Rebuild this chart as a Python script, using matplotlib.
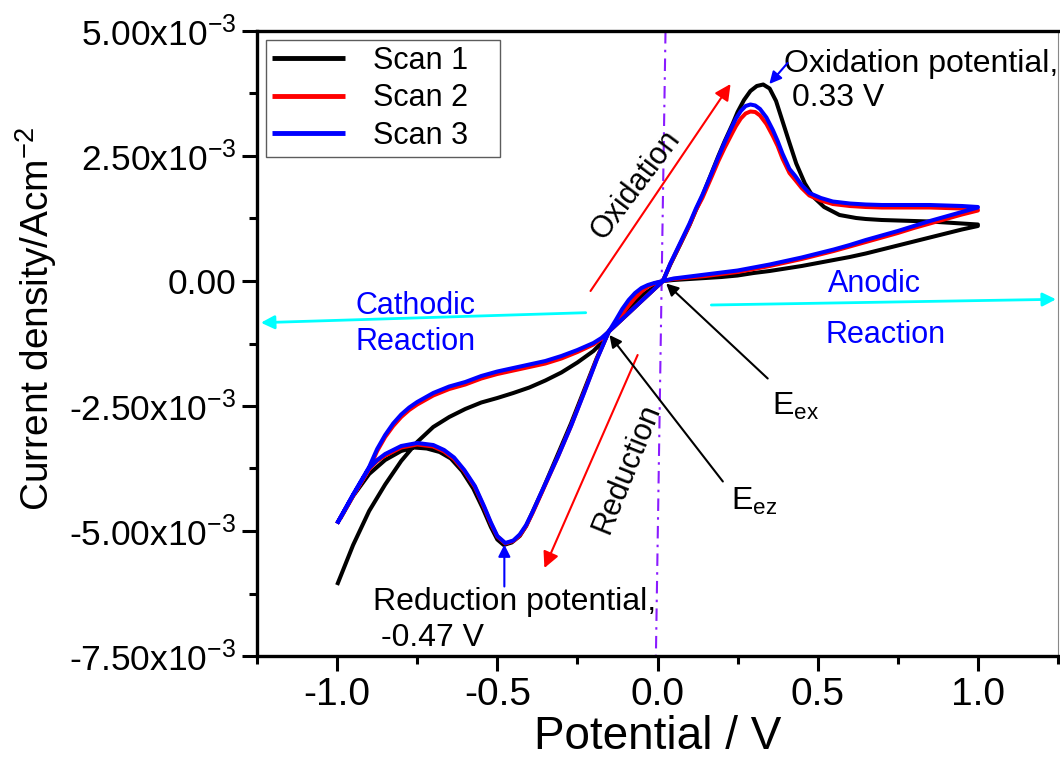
import numpy as np
import matplotlib
matplotlib.use("Agg")
import matplotlib.pyplot as plt
from matplotlib.ticker import FixedLocator, FixedFormatter, MultipleLocator

plt.rcParams['font.family'] = ['Liberation Sans', 'DejaVu Sans']
plt.rcParams['mathtext.fontset'] = 'custom'
plt.rcParams['mathtext.rm'] = 'Liberation Sans'
plt.rcParams['mathtext.it'] = 'Liberation Sans'
plt.rcParams['mathtext.bf'] = 'Liberation Sans:bold'

# current density in units of 1e-3 A/cm2, potential in V
# scan 1 (black): forward sweep -1.0 -> 1.0, then reverse 1.0 -> -1.0
s1_fwd_x = [-1.0, -0.95, -0.90, -0.85, -0.80, -0.75, -0.70, -0.65, -0.60, -0.55, -0.50,
            -0.45, -0.40, -0.35, -0.30, -0.25, -0.20, -0.175, -0.152, -0.12, -0.08, -0.04,
            0.0, 0.017, 0.05, 0.10, 0.15, 0.20, 0.25, 0.30, 0.35, 0.40, 0.45, 0.50, 0.55,
            0.60, 0.65, 0.70, 0.75, 0.80, 0.85, 0.90, 0.95, 1.0]
s1_fwd_y = [-6.08, -5.28, -4.60, -4.07, -3.60, -3.22, -2.92, -2.72, -2.56, -2.43, -2.34,
            -2.24, -2.13, -1.99, -1.83, -1.63, -1.40, -1.24, -1.01, -0.78, -0.50, -0.25,
            -0.08, 0.0, 0.02, 0.04, 0.06, 0.08, 0.11, 0.16, 0.20, 0.25, 0.30, 0.36, 0.42,
            0.48, 0.55, 0.63, 0.71, 0.79, 0.87, 0.95, 1.03, 1.10]
s1_rev_x = [1.0, 0.95, 0.90, 0.85, 0.80, 0.75, 0.70, 0.65, 0.62, 0.568, 0.52, 0.485, 0.46,
            0.433, 0.41, 0.39, 0.37, 0.35, 0.33, 0.31, 0.29, 0.27, 0.25, 0.235, 0.21, 0.19,
            0.17, 0.14, 0.12, 0.10, 0.07, 0.04, 0.017, -0.03, -0.07, -0.11, -0.152, -0.19,
            -0.23, -0.27, -0.31, -0.36, -0.39, -0.41, -0.43, -0.455, -0.48, -0.50, -0.52,
            -0.545, -0.575, -0.61, -0.645, -0.68, -0.72, -0.76, -0.80, -0.85, -0.90, -0.95,
            -0.99]
s1_rev_y = [1.13, 1.15, 1.17, 1.19, 1.20, 1.21, 1.22, 1.24, 1.26, 1.32, 1.48, 1.69, 1.95,
            2.35, 2.80, 3.20, 3.60, 3.85, 3.93, 3.90, 3.80, 3.62, 3.38, 3.15, 2.80, 2.50,
            2.18, 1.70, 1.42, 1.12, 0.72, 0.33, 0.0, -0.28, -0.52, -0.76, -1.01, -1.55,
            -2.20, -2.85, -3.45, -4.20, -4.62, -4.90, -5.10, -5.23, -5.28, -5.17, -4.92,
            -4.55, -4.15, -3.80, -3.55, -3.42, -3.35, -3.33, -3.40, -3.58, -3.86, -4.30,
            -4.75]

# scan 2 (red)
s2_fwd_x = [-1.0, -0.95, -0.90, -0.875, -0.85, -0.825, -0.80, -0.775, -0.75, -0.70, -0.65,
            -0.60, -0.55, -0.50, -0.45, -0.40, -0.35, -0.30, -0.25, -0.20, -0.175, -0.152,
            -0.13, -0.11, -0.09, -0.07, -0.05, -0.03, -0.01, 0.017, 0.05, 0.10, 0.15, 0.20,
            0.25, 0.30, 0.35, 0.40, 0.45, 0.50, 0.55, 0.60, 0.65, 0.70, 0.75, 0.80, 0.85,
            0.90, 0.95, 1.0]
s2_fwd_y = [-4.85, -4.29, -3.76, -3.40, -3.12, -2.90, -2.72, -2.58, -2.47, -2.29, -2.16,
            -2.07, -1.95, -1.86, -1.79, -1.72, -1.65, -1.55, -1.42, -1.27, -1.16, -1.01,
            -0.84, -0.66, -0.49, -0.34, -0.21, -0.11, -0.05, 0.0, 0.04, 0.07, 0.10, 0.14,
            0.18, 0.24, 0.30, 0.37, 0.44, 0.52, 0.60, 0.69, 0.78, 0.87, 0.96, 1.06, 1.15,
            1.24, 1.33, 1.41]
s2_rev_x = [1.0, 0.95, 0.90, 0.85, 0.80, 0.75, 0.70, 0.65, 0.60, 0.547, 0.51, 0.474, 0.45,
            0.43, 0.412, 0.39, 0.375, 0.36, 0.34, 0.32, 0.305, 0.29, 0.275, 0.26, 0.245,
            0.235, 0.21, 0.19, 0.17, 0.14, 0.12, 0.10, 0.07, 0.04, 0.017, -0.03, -0.07,
            -0.11, -0.152, -0.19, -0.23, -0.27, -0.31, -0.364, -0.39, -0.41, -0.43, -0.45,
            -0.475, -0.50, -0.52, -0.541, -0.57, -0.603, -0.635, -0.666, -0.70, -0.75,
            -0.80, -0.85, -0.875, -0.90, -0.95, -1.0]
s2_rev_y = [1.42, 1.45, 1.46, 1.47, 1.47, 1.47, 1.47, 1.48, 1.50, 1.54, 1.61, 1.71, 1.86,
            2.02, 2.16, 2.45, 2.70, 2.90, 3.14, 3.31, 3.38, 3.39, 3.35, 3.25, 3.10, 2.98,
            2.67, 2.40, 2.10, 1.66, 1.42, 1.12, 0.73, 0.34, 0.0, -0.28, -0.52, -0.76, -1.01,
            -1.57, -2.24, -2.90, -3.50, -4.27, -4.64, -4.90, -5.09, -5.20, -5.25, -5.11,
            -4.85, -4.53, -4.12, -3.80, -3.56, -3.41, -3.31, -3.27, -3.33, -3.49, -3.60,
            -3.76, -4.29, -4.85]

# scan 3 (blue)
s3_fwd_x = [-1.0, -0.95, -0.90, -0.875, -0.85, -0.825, -0.80, -0.775, -0.75, -0.70, -0.65,
            -0.60, -0.55, -0.50, -0.45, -0.40, -0.35, -0.30, -0.25, -0.20, -0.175, -0.152,
            -0.13, -0.11, -0.09, -0.07, -0.05, -0.03, -0.01, 0.017, 0.05, 0.10, 0.15, 0.20,
            0.25, 0.30, 0.35, 0.40, 0.45, 0.50, 0.55, 0.60, 0.65, 0.70, 0.75, 0.80, 0.85,
            0.90, 0.95, 1.0]
s3_fwd_y = [-4.85, -4.27, -3.72, -3.36, -3.08, -2.85, -2.67, -2.53, -2.42, -2.24, -2.11,
            -2.02, -1.90, -1.81, -1.74, -1.67, -1.60, -1.50, -1.38, -1.24, -1.14, -1.01,
            -0.78, -0.56, -0.38, -0.24, -0.14, -0.08, -0.04, 0.0, 0.05, 0.09, 0.13, 0.17,
            0.21, 0.27, 0.33, 0.40, 0.47, 0.55, 0.63, 0.72, 0.82, 0.91, 1.00, 1.10, 1.20,
            1.29, 1.38, 1.47]
s3_rev_x = [1.0, 0.95, 0.90, 0.85, 0.80, 0.75, 0.70, 0.65, 0.60, 0.547, 0.51, 0.474, 0.45,
            0.43, 0.412, 0.39, 0.375, 0.36, 0.34, 0.32, 0.305, 0.29, 0.275, 0.26, 0.245,
            0.235, 0.21, 0.19, 0.17, 0.14, 0.12, 0.10, 0.07, 0.04, 0.017, -0.03, -0.07,
            -0.11, -0.152, -0.19, -0.23, -0.27, -0.31, -0.364, -0.39, -0.41, -0.43, -0.45,
            -0.475, -0.50, -0.52, -0.541, -0.57, -0.603, -0.635, -0.666, -0.70, -0.75,
            -0.80, -0.85, -0.875, -0.90, -0.95, -1.0]
s3_rev_y = [1.48, 1.50, 1.51, 1.52, 1.52, 1.52, 1.52, 1.53, 1.55, 1.59, 1.66, 1.76, 1.92,
            2.10, 2.24, 2.55, 2.80, 3.02, 3.27, 3.44, 3.51, 3.53, 3.50, 3.40, 3.25, 3.12,
            2.78, 2.48, 2.17, 1.72, 1.45, 1.15, 0.75, 0.35, 0.0, -0.28, -0.52, -0.76, -1.01,
            -1.58, -2.25, -2.90, -3.50, -4.25, -4.62, -4.88, -5.07, -5.19, -5.24, -5.10,
            -4.83, -4.51, -4.10, -3.78, -3.53, -3.38, -3.28, -3.24, -3.30, -3.46, -3.58,
            -3.74, -4.28, -4.85]

scan_labels = ['Scan 1', 'Scan 2', 'Scan 3']
scan_colors = ['black', 'red', 'blue']

yticks = [-7.5e-3, -5.0e-3, -2.5e-3, 0.0, 2.5e-3, 5.0e-3]
ytick_labels = [r'-7.50x10$^{-3}$', r'-5.00x10$^{-3}$', r'-2.50x10$^{-3}$', '0.00',
                r'2.50x10$^{-3}$', r'5.00x10$^{-3}$']
xticks = [-1.0, -0.5, 0.0, 0.5, 1.0]
xtick_labels = ['-1.0', '-0.5', '0.0', '0.5', '1.0']

m = 1e-3

fig = plt.figure(figsize=(10.6, 7.67), dpi=100)
ax = fig.add_axes([257 / 1060, 111 / 767, 801 / 1060, 625 / 767])

scans = [(s1_fwd_x + s1_rev_x, s1_fwd_y + s1_rev_y),
         (s2_fwd_x + s2_rev_x, s2_fwd_y + s2_rev_y),
         (s3_fwd_x + s3_rev_x, s3_fwd_y + s3_rev_y)]
for (sx, sy), lab, col in zip(scans, scan_labels, scan_colors):
    ax.plot(sx, np.array(sy) * m, color=col, lw=2.9, label=lab + '   ',
            solid_joinstyle='round', solid_capstyle='butt')

ax.set_xlim(-1.25, 1.25)
ax.set_ylim(-7.5e-3, 5e-3)

# tilted dash-dot line near 0 V
ax.plot([0.025, -0.005], [5.0 * m, -7.5 * m], color='#8a1bff', lw=1.5,
        dashes=[6, 3, 1.2, 3], zorder=1)

ax.xaxis.set_major_locator(FixedLocator(xticks))
ax.xaxis.set_major_formatter(FixedFormatter(xtick_labels))
ax.xaxis.set_minor_locator(MultipleLocator(0.25))
ax.yaxis.set_major_locator(FixedLocator(yticks))
ax.yaxis.set_major_formatter(FixedFormatter(ytick_labels))
ax.yaxis.set_minor_locator(MultipleLocator(1.25e-3))
ax.tick_params(which='major', direction='out', length=11, width=2.2, labelsize=28, pad=4)
ax.tick_params(which='minor', direction='out', length=6, width=2.2)
ax.tick_params(axis='y', which='major', labelsize=25.5, pad=4)
ax.tick_params(top=False, right=False, which='both')

for s in ['left', 'bottom', 'top']:
    ax.spines[s].set_linewidth(2.4)
ax.spines['right'].set_linewidth(0.8)
ax.spines['right'].set_color('#888888')

ax.set_xlabel('Potential / V', fontsize=33)
ax.xaxis.set_label_coords(0.5, -0.095)
ax.set_ylabel('Current density/Acm$^{-2}$', fontsize=28)
ax.yaxis.set_label_coords(-0.247, 0.54)

leg = ax.legend(loc='upper left', bbox_to_anchor=(9 / 801, 1 - 9 / 625), borderaxespad=0,
                fontsize=22, frameon=True, fancybox=False, handlelength=2.4,
                handletextpad=0.9, labelspacing=0.24, borderpad=0.2)
leg.get_frame().set_edgecolor('#333333')
leg.get_frame().set_linewidth(1.0)
for line in leg.get_lines():
    line.set_linewidth(3.5)


def arrow(tail, tip, color, lw=1.5, ms=20):
    ax.annotate('', xy=(tip[0], tip[1] * m), xytext=(tail[0], tail[1] * m),
                arrowprops=dict(arrowstyle='-|>', color=color, lw=lw, mutation_scale=ms,
                                shrinkA=0, shrinkB=0))


# peak labels
ax.text(0.396, 4.18 * m, 'Oxidation potential,', fontsize=23, ha='left', va='baseline')
ax.text(0.421, 3.49 * m, '0.33 V', fontsize=23, ha='left', va='baseline')
arrow((0.406, 4.36), (0.349, 3.94), 'blue', lw=1.5, ms=18)

ax.text(-0.889, -6.58 * m, 'Reduction potential,', fontsize=23, ha='left', va='baseline')
ax.text(-0.864, -7.31 * m, '-0.47 V', fontsize=23, ha='left', va='baseline')
arrow((-0.478, -6.11), (-0.478, -5.27), 'blue', lw=1.5, ms=18)

# sweep direction
ax.text(-0.069, 1.92 * m, 'Oxidation', fontsize=22, rotation=53, ha='center', va='center',
        rotation_mode='anchor')
arrow((-0.209, -0.20), (0.228, 3.94), 'red', lw=1.5, ms=24)
ax.text(-0.097, -3.74 * m, 'Reduction', fontsize=22, rotation=68, ha='center', va='center',
        rotation_mode='anchor')
arrow((-0.062, -1.48), (-0.353, -5.74), 'red', lw=1.5, ms=24)

# cathodic / anodic
ax.text(-0.755, -0.51 * m, 'Cathodic', fontsize=22, color='blue', ha='center', va='center')
ax.text(-0.755, -1.21 * m, 'Reaction', fontsize=22, color='blue', ha='center', va='center')
arrow((-0.224, -0.634), (-1.238, -0.834), 'cyan', lw=2.0, ms=20)
ax.text(0.677, -0.05 * m, 'Anodic', fontsize=22, color='blue', ha='center', va='center')
ax.text(0.713, -1.08 * m, 'Reaction', fontsize=22, color='blue', ha='center', va='center')
arrow((0.168, -0.48), (1.244, -0.366), 'cyan', lw=2.0, ms=20)

# equilibrium points
ax.text(0.356, -2.68 * m, r'E$_{ex}$', fontsize=23, ha='left', va='baseline')
arrow((0.344, -1.95), (0.027, -0.05), 'black', lw=1.5, ms=18)
ax.text(0.230, -4.58 * m, r'E$_{ez}$', fontsize=23, ha='left', va='baseline')
arrow((0.204, -4.01), (-0.150, -1.08), 'black', lw=1.5, ms=18)

fig.savefig('out.png', dpi=100)
